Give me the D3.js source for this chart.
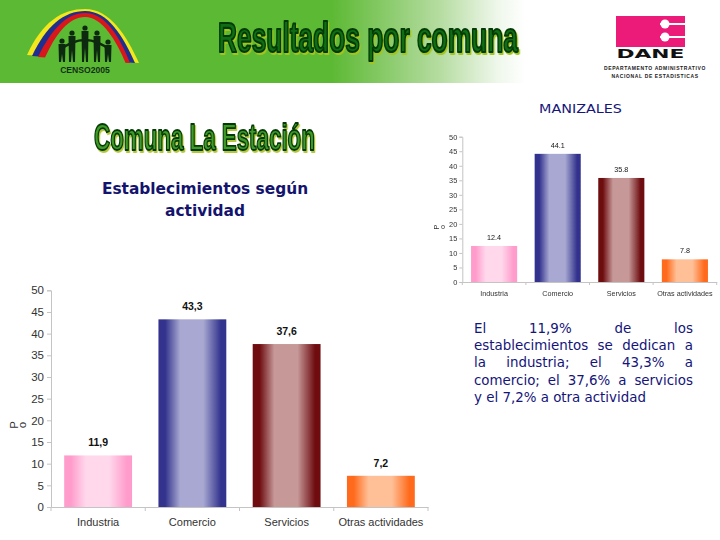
<!DOCTYPE html>
<html><head><meta charset="utf-8">
<style>
html,body{margin:0;padding:0;background:#fff}
#page{position:relative;width:720px;height:540px;overflow:hidden}
svg{position:absolute;left:0;top:0}
.line{position:absolute;left:474px;width:219px;font:13.4px "DejaVu Sans";color:#14147a;white-space:nowrap;line-height:17px}
.just{text-align:justify;text-align-last:justify;white-space:normal}
</style>
<script src="https://cdn.jsdelivr.net/npm/d3@7/dist/d3.min.js"></script>
</head><body><div id="page"></div>
<script>
const categories = ["Industria","Comercio","Servicios","Otras actividades"];
const mainValues = [11.9,43.3,37.6,7.2];
const mainLabels = ["11,9","43,3","37,6","7,2"];
const cityValues = [12.4,44.1,35.8,7.8];
const cityLabels = ["12.4","44.1","35.8","7.8"];
const yTicks = [0,5,10,15,20,25,30,35,40,45,50];
const barColors = [["#ff9ccb","#ffd8ec"],["#33338e","#a8a8d2"],["#6e0c10","#c69898"],["#ff6a1c","#ffc098"]];
const bodyLines = ["El 11,9% de los","establecimientos se dedican a","la industria; el 43,3% a","comercio; el 37,6% a servicios","y el 7,2% a otra actividad"];
const headerTitle = "Resultados por comuna";
const subTitle = "Comuna La Estación";
const chartTitle = ["Establecimientos según","actividad"];

const page = d3.select("#page");
const svg = page.append("svg").attr("width",720).attr("height",540);
const defs = svg.append("defs");

const hg = defs.append("linearGradient").attr("id","hdr");
[[0,"#5cb933"],[.46,"#5cb933"],[.5,"#74c250"],[.61,"#b5dca0"],[.69,"#eef7ea"],[.73,"#ffffff"]].forEach(s=>hg.append("stop").attr("offset",s[0]).attr("stop-color",s[1]));
barColors.forEach((c,i)=>{
  const g=defs.append("linearGradient").attr("id","bar"+i);
  [[0,c[0]],[.1,c[0]],[.32,c[1]],[.66,c[1]],[.92,c[0]],[1,c[0]]].forEach(s=>g.append("stop").attr("offset",s[0]).attr("stop-color",s[1]));
});
defs.append("filter").attr("id","soft").append("feGaussianBlur").attr("stdDeviation",0.42);

/* header band */
svg.append("rect").attr("width",720).attr("height",83).attr("fill","url(#hdr)");

/* census logo */
const logo = svg.append("g");
[["#f4e81c","M27,55 C42,22 62,9 85,9 C110,9 126,35 139,63 Z"],
 ["#1f2f8f","M32,56 C46,26 64,11 85,11 C108,11 123,36 135,63 Z"],
 ["#d8161c","M38,57 C51,30 66,13 85,13 C106,13 120,38 130,63 Z"],
 ["#5cb933","M44,60 C55,34 69,17 85,17 C102,17 116,40 126,64 Z"]
].forEach(([c,d])=>logo.append("path").attr("d",d).attr("fill",c));
logo.append("rect").attr("x",25).attr("y",58).attr("width",98).attr("height",8).attr("fill","#5cb933");
const peopleX=[62,72,85,97,108];const peopleH=[18,26,31,26,17];
peopleX.forEach((x,i)=>{
  const h=peopleH[i], base=62;
  logo.append("circle").attr("cx",x).attr("cy",base-h-3).attr("r",2.6).attr("fill","#0d2a10");
  logo.append("path").attr("d",`M${x-3.5},${base-h} L${x+3.5},${base-h} L${x+3},${base} L${x+1},${base} L${x},${base-h*.45} L${x-1},${base} L${x-3},${base} Z`).attr("fill","#0d2a10");
});
logo.append("path").attr("d","M60,50 Q85,30 110,50").attr("fill","none").attr("stroke","#0d2a10").attr("stroke-width",2.6);
logo.append("text").attr("x",85).attr("y",73).attr("text-anchor","middle").attr("font-family","Liberation Sans").attr("font-weight","bold").attr("font-size",8.6).attr("fill","#123018").text("CENSO2005");

/* text squeezed to a given width with a horizontal scale */
function fitted(text,x,y,w,family,size,weight,fill){
  const t=svg.append("text").attr("font-family",family).attr("font-size",size).attr("font-weight",weight).attr("fill",fill).text(text);
  const k=w/t.node().getComputedTextLength();
  t.attr("transform",`translate(${x},${y}) scale(${k},1)`);
  return t;
}
function fancy(text,x,y,w,size,fill,shadow,sw){
  fitted(text,x,y,w,"Liberation Sans Narrow, Liberation Sans",size,"bold",fill)
    .attr("stroke","#043a06").attr("stroke-width",sw).attr("stroke-linejoin","round")
    .style("filter",`drop-shadow(2px 2px 0 ${shadow})`);
}
fancy(headerTitle,218,52,300,42,"#0f6e14","#a3c51e",2.2);
fancy(subTitle,94,150,221,37,"#3f9a2a","#b5c63a",1.8);

/* DANE logo */
const dane=svg.append("g");
dane.append("rect").attr("x",616).attr("y",16).attr("width",69).attr("height",31).attr("fill","#ec1b7a");
[24,37].forEach(y=>{
  dane.append("rect").attr("x",660).attr("y",y-1).attr("width",25).attr("height",2).attr("fill","#fff");
  dane.append("circle").attr("cx",665).attr("cy",y).attr("r",4.5).attr("fill","#fff");
});
fitted("DANE",616.5,57.5,68,"DejaVu Sans",13,"bold","#111");
[["DEPARTAMENTO ADMINISTRATIVO",70,104],["NACIONAL DE ESTADISTICAS",78,87]].forEach(([t,y,w])=>{
  const n=t.length;
  svg.append("text").attr("x",655).attr("y",y).attr("text-anchor","middle").attr("font-family","Liberation Sans").attr("font-weight","bold").attr("font-size",5)
    .attr("letter-spacing",0.62).attr("fill","#222").text(t);
});

fitted("MANIZALES",539,113,83,"DejaVu Sans",13,"normal","#16167a");

chartTitle.forEach((t,i)=>svg.append("text").attr("x",205).attr("y",194+i*22).attr("text-anchor","middle")
  .attr("font-family","DejaVu Sans").attr("font-weight","bold").attr("font-size",15.4).attr("fill","#14146e").text(t));

/* bar charts */
function chart(o){
  const g=svg.append("g");
  if(o.blur) g.attr("filter","url(#soft)");
  const x=d3.scaleBand().domain(categories).range([o.x0,o.x1]).paddingInner(o.pad).paddingOuter(o.pad/2);
  const y=d3.scaleLinear().domain([0,50]).range([o.y0,o.y1]);
  const yA=g.append("g").attr("transform",`translate(${o.x0},0)`).call(d3.axisLeft(y).tickValues(yTicks).tickSize(o.tick).tickPadding(o.tp));
  const xA=g.append("g").attr("transform",`translate(0,${o.y0})`).call(d3.axisBottom(x).tickSize(0).tickPadding(o.xp));
  [yA,xA].forEach(a=>{a.selectAll("path,line").attr("stroke","#c4c4c4");
    a.selectAll("text").attr("font-family","Liberation Sans").attr("font-size",o.fs).attr("fill","#333");});
  xA.selectAll("text").attr("font-size",o.xfs);
  g.append("g").selectAll("line").data(d3.range(categories.length+1)).join("line")
    .attr("x1",i=>o.x0+i*x.step()).attr("x2",i=>o.x0+i*x.step()).attr("y1",o.y0).attr("y2",o.y0+o.tick).attr("stroke","#c4c4c4");
  g.append("g").selectAll("rect").data(o.values).join("rect")
    .attr("x",(d,i)=>x(categories[i])).attr("width",x.bandwidth())
    .attr("y",d=>y(d)).attr("height",d=>o.y0-y(d)).attr("fill",(d,i)=>`url(#bar${i})`);
  g.append("g").selectAll("text").data(o.values).join("text")
    .attr("x",(d,i)=>x(categories[i])+x.bandwidth()/2).attr("y",d=>y(d)-o.lab)
    .attr("text-anchor","middle").attr("font-family","Liberation Sans").attr("font-weight",o.lw).attr("font-size",o.lfs).attr("fill","#111")
    .text((d,i)=>o.labels[i]);
  ["P","o"].forEach((t,i)=>g.append("text").attr("transform",`translate(${o.ax+i*o.od},${o.ay}) rotate(-90)`)
    .attr("text-anchor","middle").attr("font-family","Liberation Sans").attr("font-size",o.fs).attr("fill","#333").text(t));
}
chart({x0:51,x1:428,y0:507,y1:290.3,pad:.28,values:mainValues,labels:mainLabels,tick:4,tp:3,xp:11,fs:11.5,xfs:11,lfs:10.5,lw:"bold",lab:9,ax:18,ay:425,od:8});
chart({x0:462.3,x1:716.7,y0:282,y1:136.7,pad:.275,values:cityValues,labels:cityLabels,tick:3,tp:2,xp:9,fs:7.4,xfs:7.2,lfs:7.2,lw:"normal",lab:6,ax:438.5,ay:227,od:6,blur:true});

/* explanatory text */
page.selectAll(".line").data(bodyLines).join("div")
  .attr("class",(d,i)=>i<4?"line just":"line")
  .style("top",(d,i)=>(320+i*17.2)+"px")
  .text(d=>d);
</script></body></html>
